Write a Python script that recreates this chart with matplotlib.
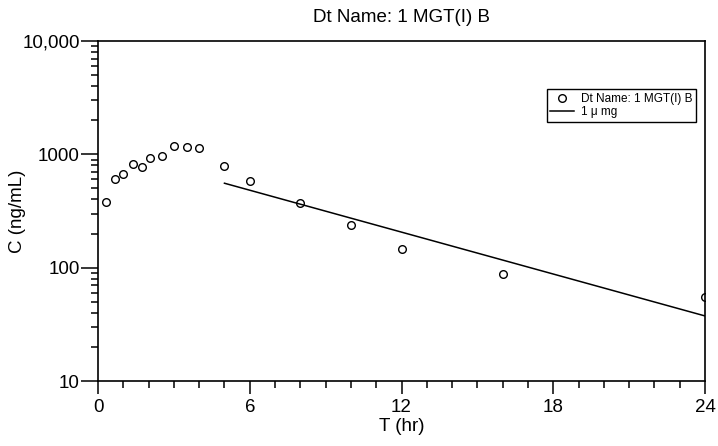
import matplotlib.pyplot as plt
from matplotlib.ticker import FixedLocator, FuncFormatter, NullFormatter

plt.rcParams['font.family'] = ['Liberation Sans', 'DejaVu Sans']

# observed concentrations
t_obs = [0.33, 0.67, 1.0, 1.4, 1.73, 2.05, 2.55, 3.0, 3.5, 4.0, 5.0, 6.0, 8.0, 10.0, 12.0, 16.0, 24.0]
c_obs = [380, 600, 670, 815, 775, 925, 965, 1175, 1170, 1145, 790, 580, 370, 240, 145, 88, 55]

# terminal fit (straight on log scale)
t_fit = [5.0, 24.0]
c_fit = [556, 37.5]

xticks = [0, 6, 12, 18, 24]
yticks = [10, 100, 1000, 10000]
ylabels = ['10', '100', '1000', '10,000']

fig = plt.figure(figsize=(7.18, 4.46), dpi=100)
ax = fig.add_axes([98 / 718, 1 - 381 / 446, 607 / 718, 340 / 446])

ax.plot(t_obs, c_obs, 'o', mfc='none', mec='black', ms=5.5, mew=1.0,
        label='Dt Name: 1 MGT(I) B')
ax.plot(t_fit, c_fit, '-', color='black', lw=1.1, label='1 \u03bc mg')

ax.set_yscale('log')
ax.set_xlim(0, 24)
ax.set_ylim(10, 10000)

ax.xaxis.set_major_locator(FixedLocator(xticks))
ax.xaxis.set_minor_locator(FixedLocator(range(0, 25)))
ax.yaxis.set_major_locator(FixedLocator(yticks))
ax.yaxis.set_major_formatter(FuncFormatter(lambda v, p: ylabels[yticks.index(int(round(v)))] if int(round(v)) in yticks else ''))
ax.yaxis.set_minor_formatter(NullFormatter())

ax.tick_params(axis='both', which='both', direction='out', width=1.1, labelsize=13.5)
ax.tick_params(axis='y', which='major', length=12, pad=1)
ax.tick_params(axis='y', which='minor', length=5)
ax.tick_params(axis='x', which='major', length=9, pad=4)
ax.tick_params(axis='x', which='minor', length=5)

for s in ax.spines.values():
    s.set_linewidth(1.2)

ax.set_xlabel('T (hr)', fontsize=13.5)
ax.xaxis.set_label_coords(0.5, -0.11)
ax.set_ylabel('C (ng/mL)', fontsize=13.5, va='center')
ax.yaxis.set_label_coords(-0.132, 0.5)
ax.set_title('Dt Name: 1 MGT(I) B', fontsize=13.5, pad=14)

leg = ax.legend(loc='upper right', bbox_to_anchor=(0.995, 0.875), fontsize=8.5,
                frameon=True, fancybox=False, edgecolor='black', framealpha=1,
                borderpad=0.3, labelspacing=0.1, handlelength=2.0, handletextpad=0.6)
leg.get_frame().set_linewidth(1.0)

fig.savefig('out.png', dpi=100)
